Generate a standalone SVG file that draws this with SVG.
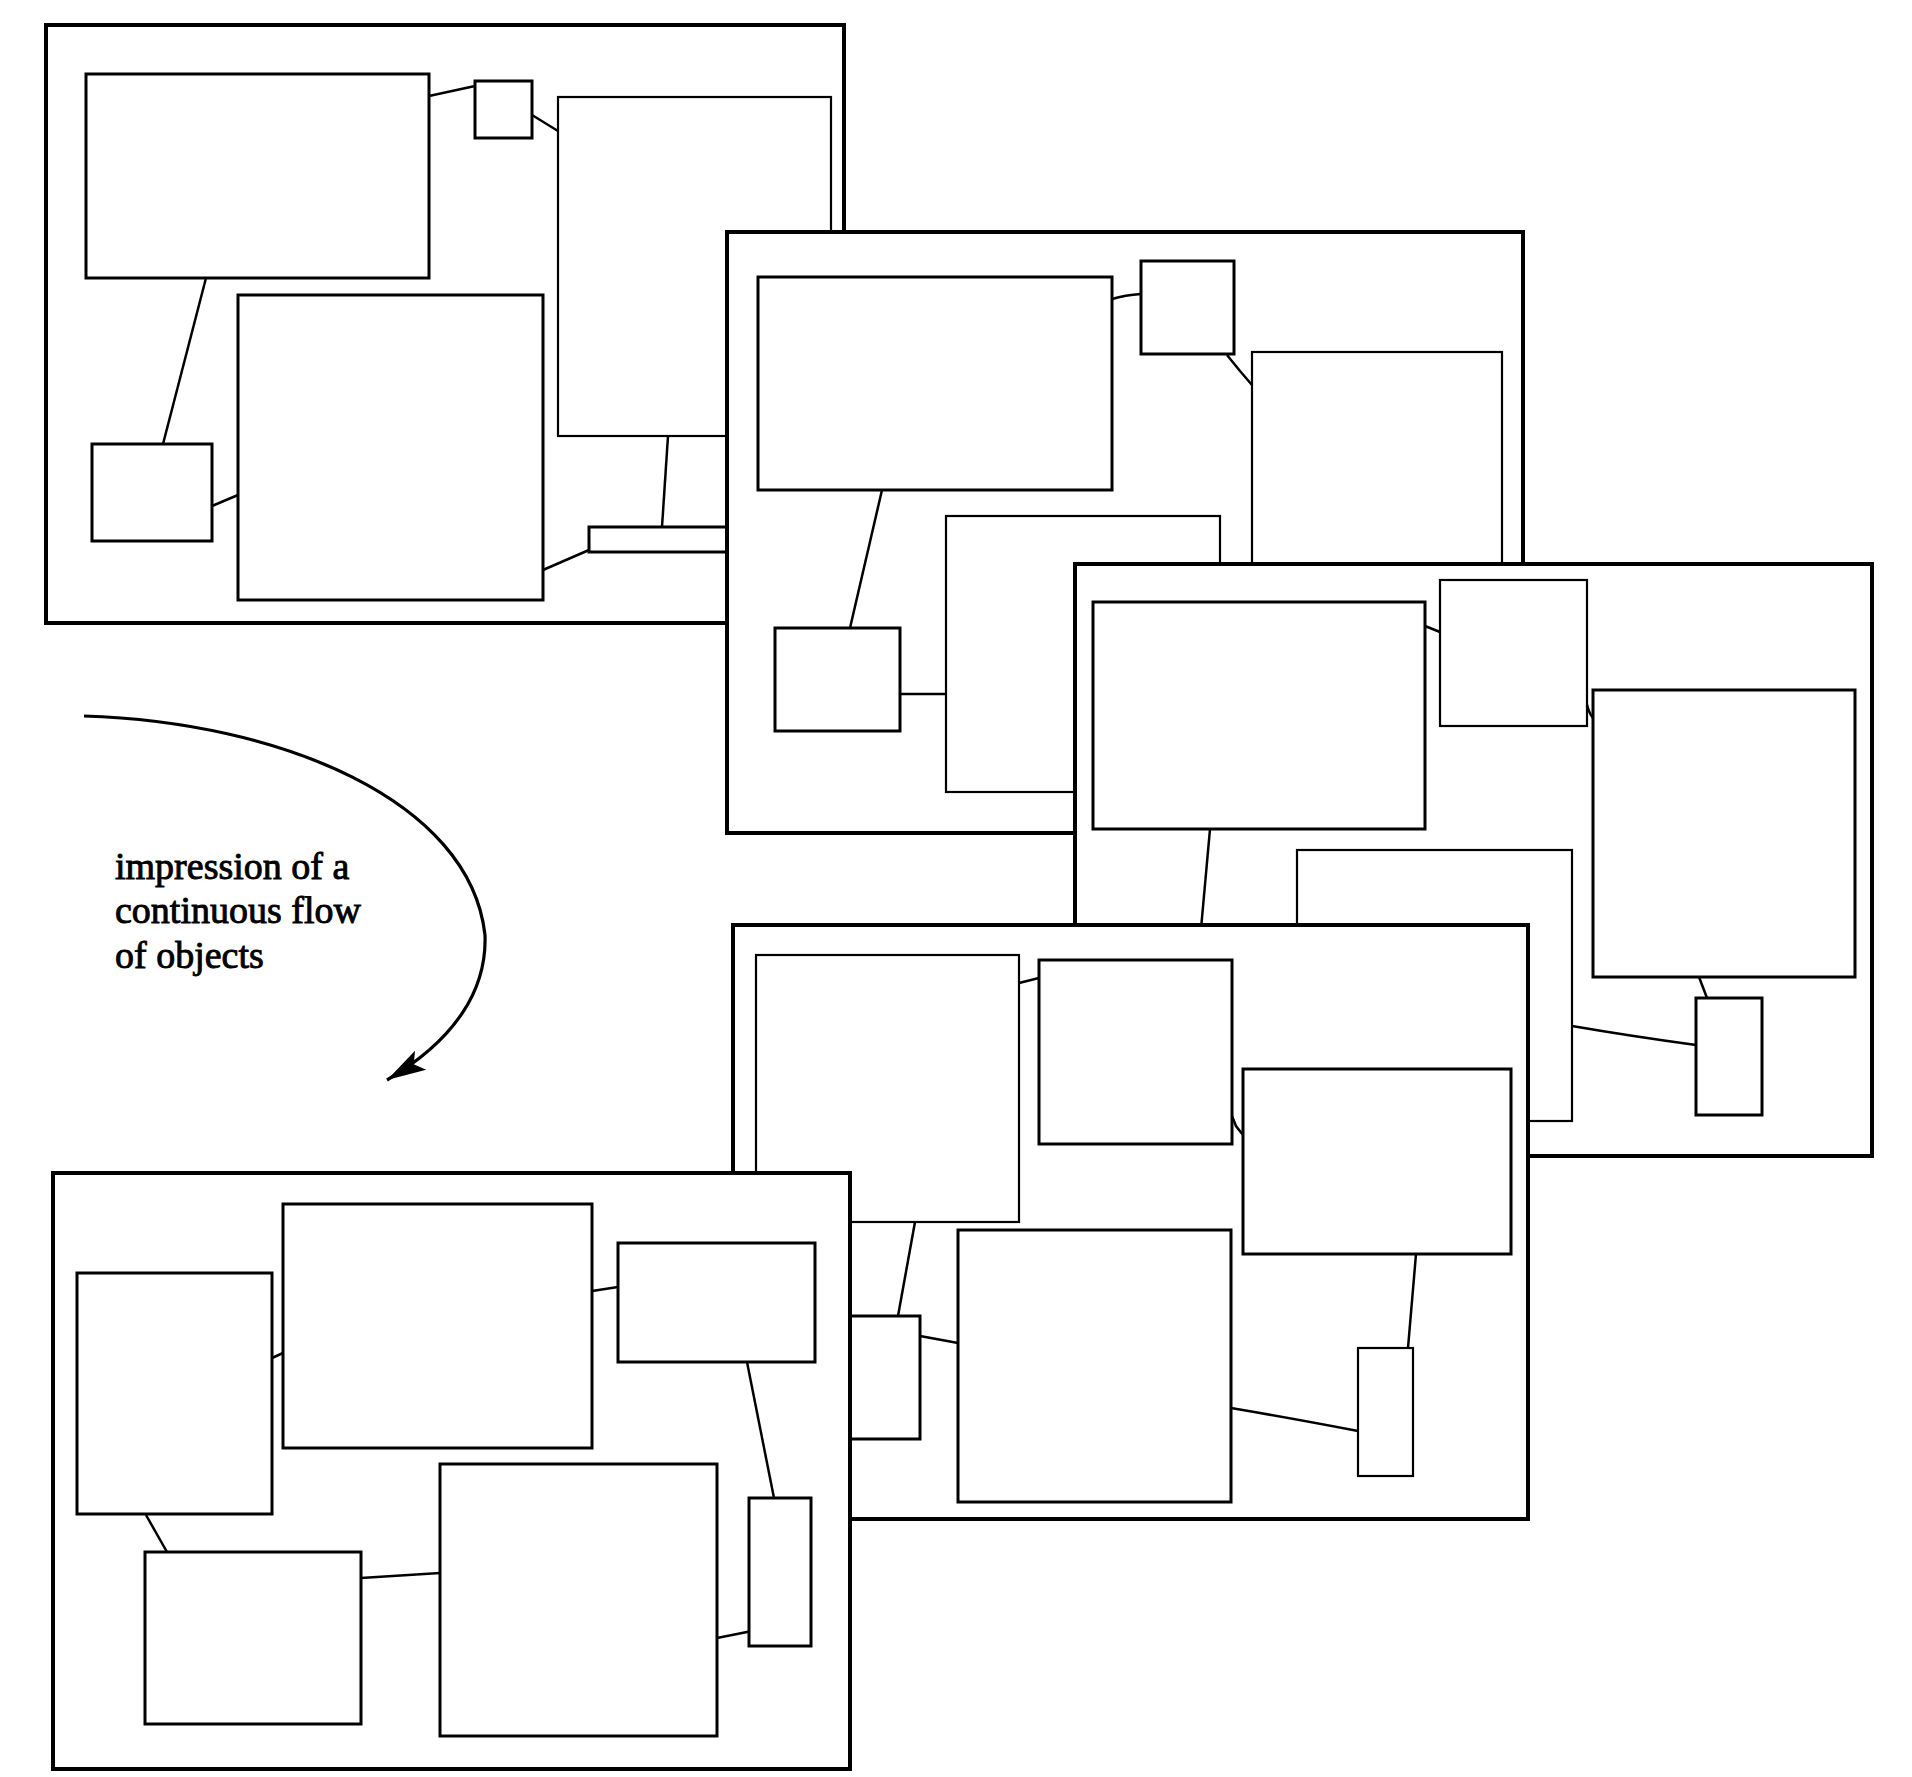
<svg xmlns="http://www.w3.org/2000/svg" width="1912" height="1777" viewBox="0 0 1912 1777">
<style>
.frame{fill:#fff;stroke:#000;stroke-width:4}
.box{fill:#fff;stroke:#000;stroke-width:3}
.thin{fill:#fff;stroke:#000;stroke-width:2.2}
.conn{fill:none;stroke:#000;stroke-width:2.5}
.label{font-family:"Liberation Serif","Times New Roman",serif;font-size:38px;fill:#000;stroke:#000;stroke-width:0.9}
</style>
<defs>
<marker id="head" markerUnits="userSpaceOnUse" viewBox="-40 -13 42 26" refX="0" refY="0" markerWidth="42" markerHeight="26" orient="auto">
<path d="M0,0 L-39,-11 L-31,0 L-39,11 Z" fill="#000"/>
</marker>
</defs>
<rect width="1912" height="1777" fill="#fff"/>

<g id="frame1">
<rect class="frame" x="46" y="25" width="798" height="598"/>
<g id="connectors1">
<path class="conn" d="M429,96 L475,86"/>
<path class="conn" d="M532,115 L558,131"/>
<path class="conn" d="M206,278 L163,444"/>
<path class="conn" d="M212,506 L238,495"/>
<path class="conn" d="M668,436 L662,527"/>
<path class="conn" d="M543,570 L589,550"/>
</g>
<g id="f1-a"><rect class="box" x="86" y="74" width="343" height="204"/></g>
<g id="f1-b"><rect class="box" x="475" y="81" width="57" height="57"/></g>
<g id="f1-c"><rect class="thin" x="558" y="97" width="273" height="339"/></g>
<g id="f1-d"><rect class="box" x="92" y="444" width="120" height="97"/></g>
<g id="f1-e"><rect class="box" x="238" y="295" width="305" height="305"/></g>
<g id="f1-f"><rect class="box" x="589" y="527" width="180" height="25"/></g>
</g>

<g id="frame2">
<rect class="frame" x="727" y="232" width="796" height="601"/>
<g id="connectors2">
<path class="conn" d="M1112,299 Q1125,295 1141,294"/>
<path class="conn" d="M1227,355 L1240,371 L1252,385"/>
<path class="conn" d="M882,490 L850,628"/>
<path class="conn" d="M900,694 L946,694"/>
</g>
<g id="f2-a"><rect class="box" x="758" y="277" width="354" height="213"/></g>
<g id="f2-b"><rect class="box" x="1141" y="261" width="93" height="93"/></g>
<g id="f2-c"><rect class="thin" x="1252" y="352" width="250" height="360"/></g>
<g id="f2-d"><rect class="box" x="775" y="628" width="125" height="103"/></g>
<g id="f2-e"><rect class="thin" x="946" y="516" width="274" height="276"/></g>
</g>

<g id="frame3">
<rect class="frame" x="1075" y="564" width="797" height="592"/>
<g id="connectors3">
<path class="conn" d="M1425,626 L1440,632"/>
<path class="conn" d="M1586,700 Q1588,712 1593,718"/>
<path class="conn" d="M1210,829 L1200,940"/>
<path class="conn" d="M1699,977 L1707,998"/>
<path class="conn" d="M1572,1026 Q1630,1036 1696,1045"/>
</g>
<g id="f3-a"><rect class="box" x="1093" y="602" width="332" height="227"/></g>
<g id="f3-b"><rect class="thin" x="1440" y="580" width="147" height="146"/></g>
<g id="f3-c"><rect class="box" x="1593" y="690" width="262" height="287"/></g>
<g id="f3-d"><rect class="box" x="1696" y="998" width="66" height="117"/></g>
<g id="f3-e"><rect class="thin" x="1297" y="850" width="275" height="271"/></g>
</g>

<g id="frame4">
<rect class="frame" x="733" y="925" width="795" height="594"/>
<g id="connectors4">
<path class="conn" d="M1019,983 L1039,978"/>
<path class="conn" d="M1232,1116 L1236,1126 L1243,1135"/>
<path class="conn" d="M915,1222 L898,1316"/>
<path class="conn" d="M920,1336 L958,1343"/>
<path class="conn" d="M1416,1254 L1408,1348"/>
<path class="conn" d="M1231,1408 Q1290,1418 1358,1431"/>
</g>
<g id="f4-a"><rect class="thin" x="756" y="955" width="263" height="267"/></g>
<g id="f4-b"><rect class="box" x="1039" y="960" width="193" height="184"/></g>
<g id="f4-c"><rect class="box" x="1243" y="1069" width="268" height="185"/></g>
<g id="f4-d"><rect class="box" x="835" y="1316" width="85" height="123"/></g>
<g id="f4-e"><rect class="box" x="958" y="1230" width="273" height="272"/></g>
<g id="f4-f"><rect class="thin" x="1358" y="1348" width="55" height="128"/></g>
</g>

<g id="frame5">
<rect class="frame" x="53" y="1173" width="797" height="596"/>
<g id="connectors5">
<path class="conn" d="M272,1358 L283,1353"/>
<path class="conn" d="M592,1291 L618,1287"/>
<path class="conn" d="M146,1515 L167,1552"/>
<path class="conn" d="M361,1578 L440,1573"/>
<path class="conn" d="M747,1362 L774,1498"/>
<path class="conn" d="M717,1638 L752,1631"/>
</g>
<g id="f5-a"><rect class="box" x="77" y="1273" width="195" height="241"/></g>
<g id="f5-b"><rect class="box" x="283" y="1204" width="309" height="244"/></g>
<g id="f5-c"><rect class="box" x="618" y="1243" width="197" height="119"/></g>
<g id="f5-d"><rect class="box" x="145" y="1552" width="216" height="172"/></g>
<g id="f5-e"><rect class="box" x="440" y="1464" width="277" height="272"/></g>
<g id="f5-f"><rect class="box" x="749" y="1498" width="62" height="148"/></g>
</g>

<g id="flow-arrow">
<path d="M84,716 C280,722 470,800 485,935 C487,990 455,1040 387,1080" fill="none" stroke="#000" stroke-width="3.2" marker-end="url(#head)"/>
<text class="label" x="115" y="879">impression of a</text>
<text class="label" x="115" y="923">continuous flow</text>
<text class="label" x="115" y="968">of objects</text>
</g>
</svg>
